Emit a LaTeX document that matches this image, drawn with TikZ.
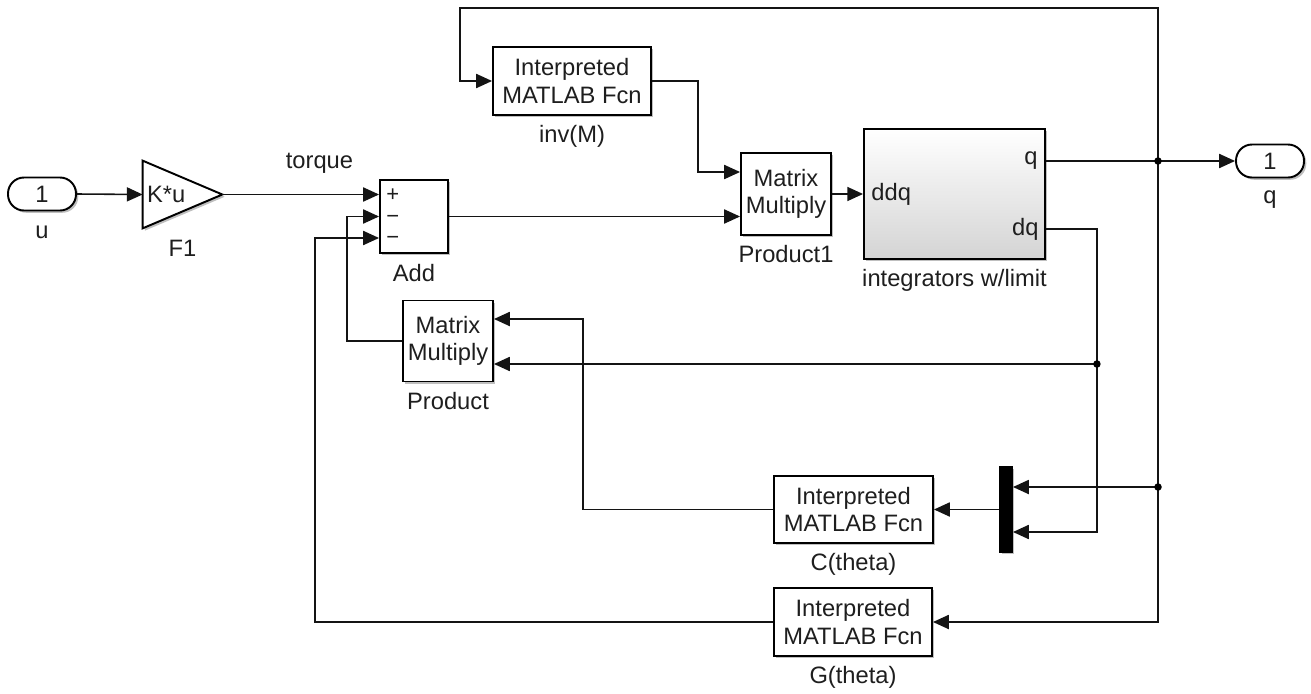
\documentclass[tikz,border=0pt]{standalone}
\usepackage{fontspec}
\setmainfont{Liberation Sans}
\usepackage{tikz}
\usetikzlibrary{arrows.meta,positioning,shadows}
\definecolor{wireBlack}{RGB}{20,20,20}
\definecolor{textDark}{RGB}{30,30,30}
\definecolor{shadeGray}{RGB}{212,212,212}

\begin{document}
\begin{tikzpicture}[
  x=0.02cm,y=-0.02cm,
  blk/.style={rectangle,draw=black,line width=1.1pt,fill=white,align=center,inner sep=0pt,
              text=textDark,font=\fontsize{13.5}{15.5}\selectfont,
              drop shadow={shadow xshift=1.3pt,shadow yshift=-1.3pt,opacity=0.25,fill=black}},
  port/.style={blk,rounded corners=0.32cm,minimum width=1.36cm,minimum height=0.66cm},
  blabel/.style={font=\fontsize{13.5}{15.5}\selectfont,text=textDark,inner sep=0pt,
                 text height=0.33cm,text depth=0.08cm},
  plabel/.style={font=\fontsize{13.5}{15.5}\selectfont,text=textDark,inner sep=0pt},
  sign/.style={font=\fontsize{12.5}{14}\selectfont,text=textDark,inner sep=0pt,
               text height=0.26cm,text depth=0pt},
  sig/.style={line width=0.9pt,draw=wireBlack},
  arrow/.style={sig,-{Triangle[length=9pt,width=8pt]}},
  dot/.style={circle,fill=black,inner sep=0pt,minimum size=0.15cm}
]
\useasboundingbox (0,0) rectangle (1311,693);

\node[port] (u) at (42,194) {1};
\node[blabel,below=0.2cm of u] (uL) {u};
\node[minimum width=1.58cm,minimum height=1.34cm,inner sep=0pt] (F1) at (182.5,194.5) {};
\draw[line width=1.1pt,fill=white,drop shadow={shadow xshift=1.3pt,shadow yshift=-1.3pt,opacity=0.25,fill=black}]
  (F1.north west) -- (F1.east) -- (F1.south west) -- cycle;
\node[plabel,anchor=west] (F1txt) at ([xshift=0.08cm]F1.west) {K*u};
\node[blabel,below=0.22cm of F1] (F1L) {F1};

\node[blk,minimum width=1.36cm,minimum height=1.46cm] (add) at (414,216.5) {};
\node[blabel,below=0.22cm of add] (addL) {Add};
\coordinate (adda) at ([yshift=0.43cm]add.west);
\coordinate (addc) at ([yshift=-0.43cm]add.west);
\node[sign,anchor=west] (s1) at ([xshift=0.14cm]adda) {+};
\node[sign,anchor=west] (s2) at ([xshift=0.14cm]add.west) {−};
\node[sign,anchor=west] (s3) at ([xshift=0.14cm]addc) {−};

\node[blk,minimum width=3.16cm,minimum height=1.36cm] (invM) at (572,81) {Interpreted\\MATLAB Fcn};
\node[blabel,below=0.2cm of invM] (invML) {inv(M)};
\node[blk,minimum width=1.8cm,minimum height=1.64cm] (prod1) at (786,194) {Matrix\\Multiply};
\node[blabel,below=0.2cm of prod1] (prod1L) {Product1};
\node[blk,minimum width=3.62cm,minimum height=2.6cm,top color=white,bottom color=shadeGray] (integ) at (954.5,194) {};
\node[blabel,below=0.2cm of integ] (integL) {integrators w/limit};
\coordinate (intq) at ([yshift=0.66cm]integ.east);
\coordinate (intdq) at ([yshift=-0.7cm]integ.east);
\node[plabel,anchor=west] (ddqL) at ([xshift=0.16cm]integ.west) {ddq};
\node[plabel,anchor=east] (qL) at ([xshift=-0.16cm]intq) {q};
\node[plabel,anchor=east] (dqL) at ([xshift=-0.14cm]intdq) {dq};
\node[port] (qout) at (1270,161) {1};
\node[blabel,below=0.16cm of qout] (qoutL) {q};

\node[blk,minimum width=1.8cm,minimum height=1.62cm] (prod) at (448,341) {Matrix\\Multiply};
\node[blabel,below=0.2cm of prod] (prodL) {Product};
\coordinate (proda) at ([yshift=0.44cm]prod.east);
\coordinate (prodb) at ([yshift=-0.46cm]prod.east);

\node[blk,minimum width=3.18cm,minimum height=1.34cm] (Cth) at (853.5,509.5) {Interpreted\\MATLAB Fcn};
\node[blabel,below=0.2cm of Cth] (CthL) {C(theta)};
\node[blk,fill=black,minimum width=0.24cm,minimum height=1.7cm] (mux) at (1006,509.5) {};
\coordinate (muxa) at ([yshift=0.45cm]mux.east);
\coordinate (muxb) at ([yshift=-0.45cm]mux.east);
\node[blk,minimum width=3.16cm,minimum height=1.36cm] (Gth) at (853,622) {Interpreted\\MATLAB Fcn};
\node[blabel,below=0.2cm of Gth] (GthL) {G(theta)};

\coordinate (topL) at (460,8);
\coordinate (j1) at (1158,161);
\coordinate (j2) at (j1 |- muxa);

\draw[arrow] (u.east) -- (F1.west);
\draw[arrow] (F1.east) -- (F1.east -| add.west)
  node[pos=0.62,above=0.4cm,plabel] (torqueL) {torque};
\draw[arrow] (add.east) -- (add.east -| prod1.west);
\draw[arrow] (invM.east) -- ++(0.92cm,0) |- ([yshift=0.44cm]prod1.west);
\draw[arrow] (prod1.east) -- (prod1.east -| integ.west);
\draw[arrow] (intq) -- (qout.west);
\draw[arrow] (j1) |- (topL) |- (invM.west);
\draw[arrow] (j1) |- (Gth.east);
\draw[arrow] (j2) -- (muxa);
\draw[arrow] (intdq) -- ++(1.02cm,0) coordinate (dqx) |- (muxb);
\coordinate (j3) at (dqx |- prodb);
\draw[arrow] (j3) -- (prodb);
\draw[arrow] (mux.west) -- (Cth.east);
\draw[arrow] (Cth.west) -- ++(-3.8cm,0) |- (proda);
\draw[arrow] (prod.west) -- ++(-1.1cm,0) |- (add.west);
\draw[arrow] (Gth.west) -- ++(-9.16cm,0) |- (addc);
\node[dot] (d1) at (j1) {};
\node[dot] (d2) at (j2) {};
\node[dot] (d3) at (j3) {};
\end{tikzpicture}
\end{document}
